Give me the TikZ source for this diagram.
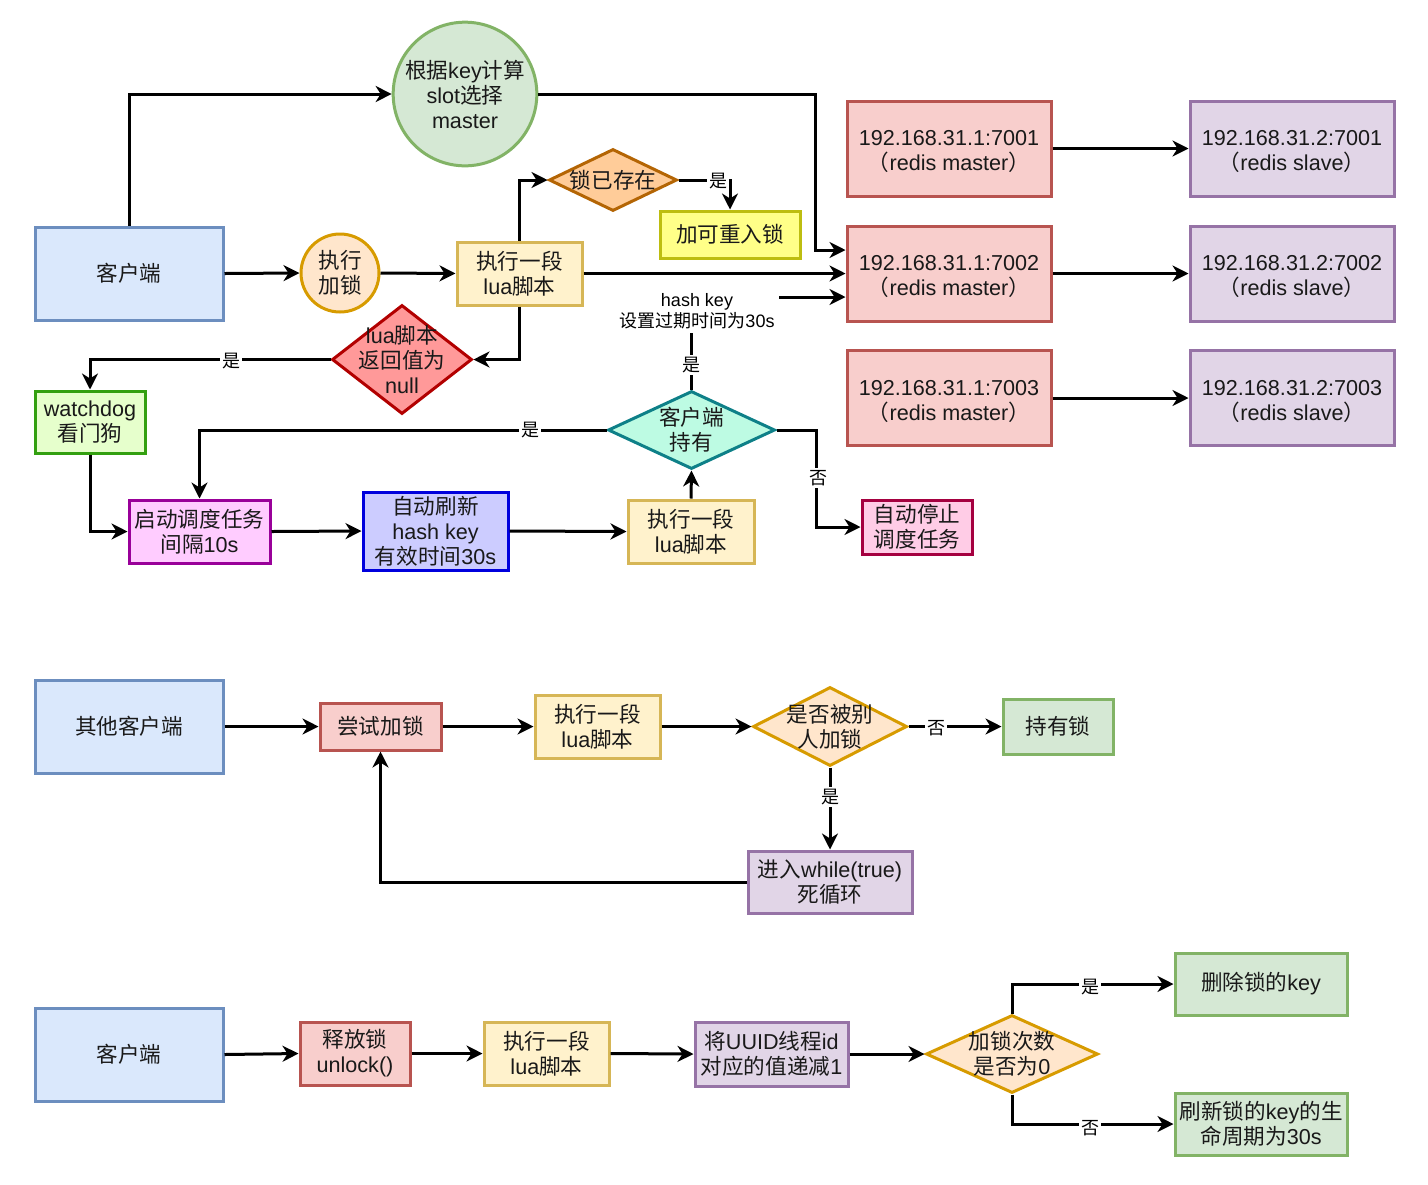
\documentclass[tikz,border=0pt]{standalone}
\usepackage{fontspec}
\setmainfont{Noto Sans CJK SC}
\newfontfamily\enfont{Liberation Sans}
\newcommand\Lat[1]{{\enfont #1}}
\usetikzlibrary{arrows.meta,shapes.geometric,calc}
\definecolor{blueF}{HTML}{DAE8FC}\definecolor{blueS}{HTML}{6C8EBF}
\definecolor{greenF}{HTML}{D5E8D4}\definecolor{greenS}{HTML}{82B366}
\definecolor{orangeF}{HTML}{FFE6CC}\definecolor{orangeS}{HTML}{D79B00}
\definecolor{yellowF}{HTML}{FFF2CC}\definecolor{yellowS}{HTML}{D6B656}
\definecolor{redF}{HTML}{F8CECC}\definecolor{redS}{HTML}{B85450}
\definecolor{purpleF}{HTML}{E1D5E7}\definecolor{purpleS}{HTML}{9673A6}
\definecolor{lockF}{HTML}{FFCC99}\definecolor{lockS}{HTML}{B46504}
\definecolor{reentF}{HTML}{FFFF88}\definecolor{reentS}{HTML}{BDBD10}
\definecolor{nullF}{HTML}{FF9999}\definecolor{nullS}{HTML}{B20000}
\definecolor{wdF}{HTML}{E6FFCC}\definecolor{wdS}{HTML}{33A010}
\definecolor{schF}{HTML}{FFCCFF}\definecolor{schS}{HTML}{990099}
\definecolor{refF}{HTML}{CCCCFF}\definecolor{refS}{HTML}{0000DD}
\definecolor{holdF}{HTML}{BDFBE3}\definecolor{holdS}{HTML}{0E8088}
\definecolor{stopF}{HTML}{FFCCE6}\definecolor{stopS}{HTML}{A50040}
\begin{document}
\begin{tikzpicture}[x=0.5pt,y=-0.5pt,
  base/.style={line width=1.5pt, align=center, inner sep=1pt, text=black!90,
    font=\fontsize{10.8}{12.5}\selectfont},
  box/.style={base, rectangle},
  circ/.style={base, circle},
  dia/.style={base, diamond, inner sep=0pt},
  sz/.style 2 args={minimum width=#1, minimum height=#2},
  arr/.style={line width=1.5pt, -{Stealth[length=8pt,width=8pt,inset=2.5pt]}},
  lbl/.style={fill=white, inner sep=1pt, align=center, font=\fontsize{9}{10.5}\selectfont},
  txt/.style={align=center, text=black!90, font=\fontsize{10.8}{12.5}\selectfont},
  ip/.style={text depth=0pt, yshift=0pt}]
\fill[white] (0,0) rectangle (1428,1184);
\useasboundingbox (0,0) rectangle (1428,1184);

% ---------- section 1 ----------
\node[box, sz={94pt}{46.5pt}, draw=blueS, fill=blueF] (c1) at (129,273.5) {客户端};
\node[circ, minimum size=70pt, draw=greenS, fill=greenF] (calc) at (465,94) {根据\Lat{key}计算\\\Lat{slot}选择\\\Lat{master}};
\node[circ, minimum size=39pt, draw=orangeS, fill=orangeF] (exl) at (340,273) {执行\\加锁};
\node[box, sz={62.5pt}{31.5pt}, draw=yellowS, fill=yellowF] (lua1) at (519.5,273.5) {执行一段\\\Lat{lua}脚本};
\node[dia, sz={64pt}{31pt}, draw=lockS, fill=lockF] (lock) at (613,180) {};
\node[txt] at (lock) {锁已存在};
\node[box, sz={70pt}{23.5pt}, draw=reentS, fill=reentF] (reent) at (730,234.5) {加可重入锁};

\node[box, sz={102pt}{47.5pt}, draw=redS, fill=redF] (m1) at (949,148.5) {};
\node[box, sz={102pt}{47.5pt}, draw=redS, fill=redF] (m2) at (949,273.5) {};
\node[box, sz={102pt}{47.5pt}, draw=redS, fill=redF] (m3) at (949,398) {};
\node[box, sz={102pt}{47.5pt}, draw=purpleS, fill=purpleF] (s1) at (1292,148.5) {};
\node[box, sz={102pt}{47.5pt}, draw=purpleS, fill=purpleF] (s2) at (1292,273.5) {};
\node[box, sz={102pt}{47.5pt}, draw=purpleS, fill=purpleF] (s3) at (1292,398) {};
\node[txt, yshift=-1.5pt] at (m1) {\Lat{192.168.31.1:7001}\\（\Lat{redis master}）};
\node[txt, yshift=-1.5pt] at (m2) {\Lat{192.168.31.1:7002}\\（\Lat{redis master}）};
\node[txt, yshift=-1.5pt] at (m3) {\Lat{192.168.31.1:7003}\\（\Lat{redis master}）};
\node[txt, yshift=-1.5pt] at (s1) {\Lat{192.168.31.2:7001}\\（\Lat{redis slave}）};
\node[txt, yshift=-1.5pt] at (s2) {\Lat{192.168.31.2:7002}\\（\Lat{redis slave}）};
\node[txt, yshift=-1.5pt] at (s3) {\Lat{192.168.31.2:7003}\\（\Lat{redis slave}）};

\node[dia, sz={70pt}{54.5pt}, draw=nullS, fill=nullF] (nulld) at (402,359.5) {};
\node[txt] at (nulld) {\Lat{lua}脚本\\返回值为\\\Lat{null}};
\node[box, sz={55pt}{31pt}, draw=wdS, fill=wdF] (wd) at (90,422) {\Lat{watchdog}\\看门狗};
\node[box, sz={70.5pt}{31.5pt}, draw=schS, fill=schF] (sched) at (199.5,531.5) {启动调度任务\\间隔\Lat{10s}};
\node[box, sz={72.5pt}{39pt}, draw=refS, fill=refF] (refresh) at (435.5,531) {自动刷新\\\Lat{hash key}\\有效时间\Lat{30s}};
\node[box, sz={63pt}{31.5pt}, draw=yellowS, fill=yellowF] (lua2) at (691,531.5) {执行一段\\\Lat{lua}脚本};
\node[dia, sz={83.5pt}{39pt}, draw=holdS, fill=holdF] (hold) at (691.5,430) {};
\node[txt] at (hold) {客户端\\持有};
\node[box, sz={55pt}{27pt}, draw=stopS, fill=stopF] (stop) at (917,527) {自动停止\\调度任务};

\coordinate (m2a) at ($(m2.west)+(0,-23.5)$);
\coordinate (m2b) at ($(m2.west)+(0,23.5)$);

\draw[arr] (c1.north) |- (calc.west);
\draw[arr] (calc.east) -| ([xshift=-15pt]m2a) -- (m2a);
\draw[arr] (c1.east) -- (exl.west);
\draw[arr] (exl.east) -- (lua1.west);
\draw[arr] (lua1.north) |- (lock.west);
\draw[arr] (lock.east) -| (reent.north);
\draw[arr] (lua1.east) -- (m2.west);
\draw[arr] (lua1.south) |- (nulld.east);
\draw[arr] (nulld.west) -| (wd.north);
\draw[arr] (wd.south) |- (sched.west);
\draw[arr] (sched.east) -- (refresh.west);
\draw[arr] (refresh.east) -- (lua2.west);
\draw[arr] (lua2.north) -- (hold.south);
\draw[arr] (hold.west) -| (sched.north);
\draw[arr] (hold.east) -| ([xshift=-22pt]stop.west) -- (stop.west);
\draw[arr] (hold.north) |- (m2b);
\draw[arr] (m1.east) -- (s1.west);
\draw[arr] (m2.east) -- (s2.west);
\draw[arr] (m3.east) -- (s3.west);

\node[lbl] at (718,181) {是};
\node[lbl] at (231,361) {是};
\node[lbl] at (530,430) {是};
\node[lbl] at (818,478) {否};
\node[lbl] at (691,365) {是};
\node[lbl, inner sep=2pt] at (697,311) {\Lat{hash key}\\设置过期时间为\Lat{30s}};

% ---------- section 2 ----------
\node[box, sz={94pt}{46.5pt}, draw=blueS, fill=blueF] (o1) at (129,726.5) {其他客户端};
\node[box, sz={60.5pt}{23.5pt}, draw=redS, fill=redF] (try) at (380.5,726.5) {尝试加锁};
\node[box, sz={62.5pt}{31.5pt}, draw=yellowS, fill=yellowF] (lua3) at (597.5,726.5) {执行一段\\\Lat{lua}脚本};
\node[dia, sz={77pt}{39.5pt}, draw=orangeS, fill=orangeF] (d2) at (830,726.5) {};
\node[txt] at (d2) {是否被别\\人加锁};
\node[box, sz={55pt}{27.5pt}, draw=greenS, fill=greenF] (own) at (1058,726.5) {持有锁};
\node[box, sz={82pt}{31pt}, draw=purpleS, fill=purpleF] (loop) at (830,882) {进入\Lat{while(true)}\\死循环};

\draw[arr] (o1.east) -- (try.west);
\draw[arr] (try.east) -- (lua3.west);
\draw[arr] (lua3.east) -- (d2.west);
\draw[arr] (d2.east) -- (own.west);
\draw[arr] (d2.south) -- (loop.north);
\draw[arr] (loop.west) -| (try.south);
\node[lbl] at (936,728) {否};
\node[lbl] at (830,797) {是};

% ---------- section 3 ----------
\node[box, sz={94pt}{46.5pt}, draw=blueS, fill=blueF] (c3) at (129,1054.5) {客户端};
\node[box, sz={55pt}{31.5pt}, draw=redS, fill=redF] (rel) at (355,1053.5) {释放锁\\\Lat{unlock()}};
\node[box, sz={62.5pt}{31.5pt}, draw=yellowS, fill=yellowF] (lua4) at (546.5,1053.5) {执行一段\\\Lat{lua}脚本};
\node[box, sz={76.5pt}{32pt}, draw=purpleS, fill=purpleF] (dec) at (771.5,1054) {将\Lat{UUID}线程\Lat{id}\\对应的值递减\Lat{1}};
\node[dia, sz={86pt}{39pt}, draw=orangeS, fill=orangeF] (d3) at (1012,1054) {};
\node[txt] at (d3) {加锁次数\\是否为\Lat{0}};
\node[box, sz={86pt}{31pt}, draw=greenS, fill=greenF] (del) at (1261,984) {删除锁的\Lat{key}};
\node[box, sz={86pt}{31pt}, draw=greenS, fill=greenF] (ref) at (1261,1124) {刷新锁的\Lat{key}的生\\命周期为\Lat{30s}};

\draw[arr] (c3.east) -- (rel.west);
\draw[arr] (rel.east) -- (lua4.west);
\draw[arr] (lua4.east) -- (dec.west);
\draw[arr] (dec.east) -- (d3.west);
\draw[arr] (d3.north) |- (del.west);
\draw[arr] (d3.south) |- (ref.west);
\node[lbl] at (1090,987) {是};
\node[lbl] at (1090,1128) {否};
\end{tikzpicture}
\end{document}
